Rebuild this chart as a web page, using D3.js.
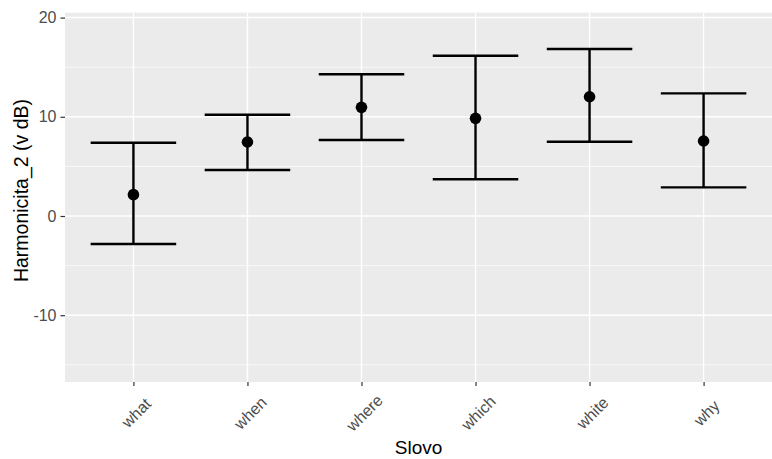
<!DOCTYPE html>
<html>
<head>
<meta charset="utf-8">
<script src="https://cdn.jsdelivr.net/npm/d3@7"></script>
<style>
  html, body { margin: 0; padding: 0; background: #fff; }
  svg { display: block; font-family: "Liberation Sans", Arial, sans-serif; }
</style>
</head>
<body>
<svg id="chart" width="772" height="459"></svg>
<script>
// Harmonicita_2 per word: mean with lower/upper interval bounds
const categories = ["what", "when", "where", "which", "white", "why"];
const means = [2.15, 7.46, 10.95, 9.84, 12.02, 7.56];
const lower = [-2.82, 4.64, 7.66, 3.70, 7.49, 2.89];
const upper = [7.39, 10.21, 14.28, 16.15, 16.83, 12.36];
const majorTicks = [-10, 0, 10, 20];
const minorTicks = [-15, -5, 5, 15];

const svg = d3.select("#chart");
const panel = { left: 65, right: 772, top: 12.7, bottom: 382 };

const x = d3.scalePoint()
  .domain(categories)
  .range([panel.left, panel.right])
  .padding(0.6);
const step = x.step();

const y = d3.scaleLinear()
  .domain([-16.73, 20.49])
  .range([panel.bottom, panel.top]);

// panel background
svg.append("rect")
  .attr("x", panel.left).attr("y", panel.top)
  .attr("width", panel.right - panel.left)
  .attr("height", panel.bottom - panel.top)
  .attr("fill", "#EBEBEB");

const grid = svg.append("g");
grid.selectAll("line.minor").data(minorTicks).join("line")
  .attr("x1", panel.left).attr("x2", panel.right)
  .attr("y1", d => y(d)).attr("y2", d => y(d))
  .attr("stroke", "#fff").attr("stroke-width", 0.7);
grid.selectAll("line.major").data(majorTicks).join("line")
  .attr("x1", panel.left).attr("x2", panel.right)
  .attr("y1", d => y(d)).attr("y2", d => y(d))
  .attr("stroke", "#fff").attr("stroke-width", 1.4);
grid.selectAll("line.vx").data(categories).join("line")
  .attr("x1", d => x(d)).attr("x2", d => x(d))
  .attr("y1", panel.top).attr("y2", panel.bottom)
  .attr("stroke", "#fff").attr("stroke-width", 1.4);

// y axis
const yAxis = svg.append("g")
  .attr("transform", `translate(${panel.left},0)`)
  .call(d3.axisLeft(y).tickValues(majorTicks).tickFormat(d => String(d))
    .tickSize(4.5).tickPadding(4));
yAxis.select(".domain").remove();
yAxis.selectAll(".tick line").attr("stroke", "#333333").attr("stroke-width", 1.2);
yAxis.selectAll(".tick text")
  .attr("fill", "#4D4D4D").style("font-size", "16px")
  .style("font-family", "'Liberation Sans', Arial, sans-serif");

// x axis
const xAxis = svg.append("g")
  .attr("transform", `translate(0,${panel.bottom})`)
  .call(d3.axisBottom(x).tickSize(4).tickFormat(""));
xAxis.select(".domain").remove();
xAxis.selectAll(".tick line").attr("stroke", "#333333").attr("stroke-width", 1.2);

svg.append("g").selectAll("text").data(categories).join("text")
  .attr("transform", d => `translate(${x(d) + 3},413) rotate(-45)`)
  .attr("text-anchor", "middle")
  .attr("dominant-baseline", "central")
  .attr("fill", "#4D4D4D")
  .style("font-size", "16px")
  .text(d => d);

// error bars
const halfW = step * 0.375;
const bars = svg.append("g").attr("stroke", "#000").attr("stroke-width", 2.4);
categories.forEach((c, i) => {
  bars.append("line")
    .attr("x1", x(c)).attr("x2", x(c))
    .attr("y1", y(upper[i])).attr("y2", y(lower[i]));
  bars.append("line")
    .attr("x1", x(c) - halfW).attr("x2", x(c) + halfW)
    .attr("y1", y(upper[i])).attr("y2", y(upper[i]));
  bars.append("line")
    .attr("x1", x(c) - halfW).attr("x2", x(c) + halfW)
    .attr("y1", y(lower[i])).attr("y2", y(lower[i]));
});

// means
svg.append("g").selectAll("circle").data(categories).join("circle")
  .attr("cx", d => x(d))
  .attr("cy", (d, i) => y(means[i]))
  .attr("r", 5.8)
  .attr("fill", "#000");

// axis titles
svg.append("text")
  .attr("x", (panel.left + panel.right) / 2).attr("y", 454)
  .attr("text-anchor", "middle")
  .attr("fill", "#000")
  .style("font-size", "19px")
  .text("Slovo");

svg.append("text")
  .attr("transform", `translate(28,190.5) rotate(-90)`)
  .attr("text-anchor", "middle")
  .attr("fill", "#000")
  .style("font-size", "19.5px")
  .text("Harmonicita_2 (v dB)");
</script>
</body>
</html>
